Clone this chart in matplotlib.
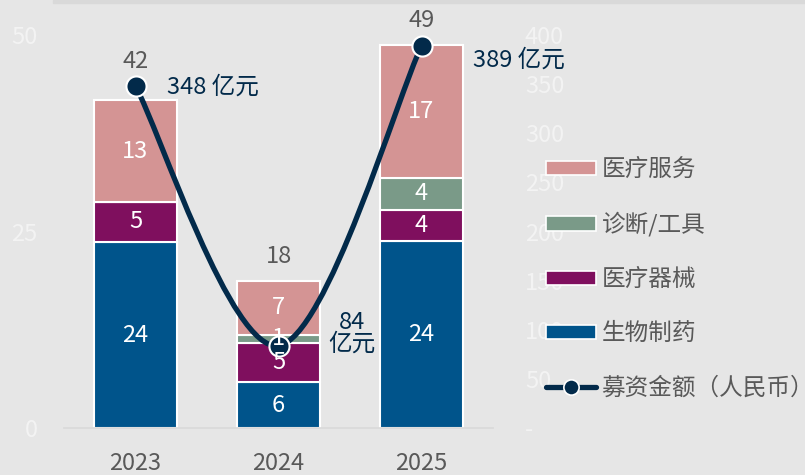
import matplotlib
matplotlib.use("Agg")
import matplotlib.pyplot as plt
from matplotlib.path import Path
from matplotlib.patches import PathPatch, Patch, Rectangle
from matplotlib.lines import Line2D
from matplotlib.ticker import FuncFormatter

plt.rcParams['font.family'] = ['Noto Sans CJK SC', 'DejaVu Sans']

# ---------------------------------------------------------------- data

years = ['2023', '2024', '2025']
biopharma = [23.7, 5.9, 23.8]      # 生物制药
devices = [5.1, 5.0, 4.0]          # 医疗器械
diagnostics = [0.0, 1.0, 4.0]      # 诊断/工具
services = [12.9, 6.8, 16.9]       # 医疗服务
total_labels = [42, 18, 49]
funding = [348, 84, 389]           # 募资金额（亿元）
funding_labels = ['348 亿元', '84\n亿元', '389 亿元']

series_names = ['生物制药', '医疗器械', '诊断/工具', '医疗服务']
series_values = [biopharma, devices, diagnostics, services]

# ---------------------------------------------------------------- style

BG = '#e6e6e6'
COLORS = ['#00548b', '#7f0f5e', '#7a9a88', '#d49494']
NAVY = '#022a4a'
GRAY_TEXT = '#595959'
FAINT = '#f3f3f3'
FS = 17

fig = plt.figure(figsize=(8.05, 4.75), dpi=100)
fig.patch.set_facecolor(BG)
fig.patches.append(Rectangle((53 / 805, 1 - 3 / 475), 1, 3 / 475,
                             transform=fig.transFigure, color='#d9d9d9', zorder=0))

ax = fig.add_axes([64 / 805, 1 - 428.3 / 475, (493 - 64) / 805, (428.3 - 35) / 475])
ax.set_facecolor(BG)
ax2 = ax.twinx()

x = list(range(len(years)))
bottom = [0.0] * len(years)
for name, vals, col in zip(series_names, series_values, COLORS):
    ax.bar(x, vals, width=0.575, bottom=bottom, color=col,
           edgecolor='white', linewidth=1.5, zorder=2)
    for xi, b, v in zip(x, bottom, vals):
        if v > 0:
            ax2.text(xi, b + v / 2, f'{round(v)}', transform=ax.transData,
                     ha='center', va='center', color='white', fontsize=FS, zorder=10)
    bottom = [b + v for b, v in zip(bottom, vals)]

ax.set_xlim(-0.5, len(years) - 0.5)
ax.set_ylim(0, 50)
ax.set_yticks([0, 25, 50])
ax2.set_ylim(0, 400)
ax2.set_yticks(range(0, 401, 50))
ax2.yaxis.set_major_formatter(FuncFormatter(lambda v, _: '-' if v == 0 else f'{v:.0f}'))

ax.set_xticks(x)
ax.set_xticklabels(years)
ax.tick_params(axis='x', length=0, pad=17, labelsize=FS, labelcolor=GRAY_TEXT)
ax.tick_params(axis='y', length=0, pad=19, labelsize=FS, labelcolor=FAINT)
ax2.tick_params(axis='y', length=0, pad=23, labelsize=FS, labelcolor=FAINT)
for a in (ax, ax2):
    for s in a.spines.values():
        s.set_visible(False)
ax.spines['bottom'].set_visible(True)
ax.spines['bottom'].set_color('#d9d9d9')
ax.spines['bottom'].set_linewidth(1.2)

# smoothed funding line (Catmull-Rom style bezier through the points)
pts = list(zip(x, funding))
verts = [pts[0]]
codes = [Path.MOVETO]
for i in range(len(pts) - 1):
    p0 = pts[i - 1] if i > 0 else pts[i]
    p1, p2 = pts[i], pts[i + 1]
    p3 = pts[i + 2] if i + 2 < len(pts) else pts[i + 1]
    c1 = (p1[0] + (p2[0] - p0[0]) / 6, p1[1] + (p2[1] - p0[1]) / 6)
    c2 = (p2[0] - (p3[0] - p1[0]) / 6, p2[1] - (p3[1] - p1[1]) / 6)
    verts += [c1, c2, p2]
    codes += [Path.CURVE4] * 3
ax2.add_patch(PathPatch(Path(verts, codes), facecolor='none', edgecolor=NAVY,
                        linewidth=3.8, capstyle='round', zorder=5, clip_on=False))
ax2.plot(x, funding, linestyle='none', marker='o', markersize=14.5,
         markerfacecolor=NAVY, markeredgecolor='white', markeredgewidth=1.5,
         zorder=6, clip_on=False)

# funding labels
offsets = [(23, -1, 'left'), (53, 9, 'center'), (37, -10, 'left')]
for xi, v, lab, (dx, dy, ha) in zip(x, funding, funding_labels, offsets):
    ax2.annotate(lab, (xi, v), xytext=(dx, dy), textcoords='offset points',
                 ha=ha, va='center', fontsize=FS, color=NAVY, linespacing=0.95,
                 zorder=10)

# totals above bars (or above the marker when it sits higher)
for xi, tot, b, v in zip(x, total_labels, bottom, funding):
    anchor = max(b, v / 8)
    ax2.annotate(f'{tot}', (xi, anchor), xycoords=ax.transData, xytext=(0, 17.5),
                 textcoords='offset points', ha='center', va='center',
                 fontsize=FS, color=GRAY_TEXT, zorder=10)

# legend
handles = [Patch(facecolor=c, edgecolor='white', linewidth=1.2)
           for c in COLORS[::-1]]
handles.append(Line2D([], [], color=NAVY, linewidth=3.8, marker='o', markersize=11,
                      markerfacecolor=NAVY, markeredgecolor='white',
                      markeredgewidth=1.2, solid_capstyle='round'))
labels = series_names[::-1] + ['募资金额（人民币）']
leg = ax2.legend(handles, labels, loc='upper left',
                 bbox_to_anchor=(546 / 805, 1 - 158 / 475),
                 bbox_transform=fig.transFigure, frameon=False, fontsize=FS,
                 labelcolor=GRAY_TEXT, handlelength=2.1, handleheight=0.55,
                 handletextpad=0.25, labelspacing=1.32, borderpad=0,
                 borderaxespad=0)
leg.set_zorder(20)

fig.savefig('out.png', dpi=100, facecolor=BG)
